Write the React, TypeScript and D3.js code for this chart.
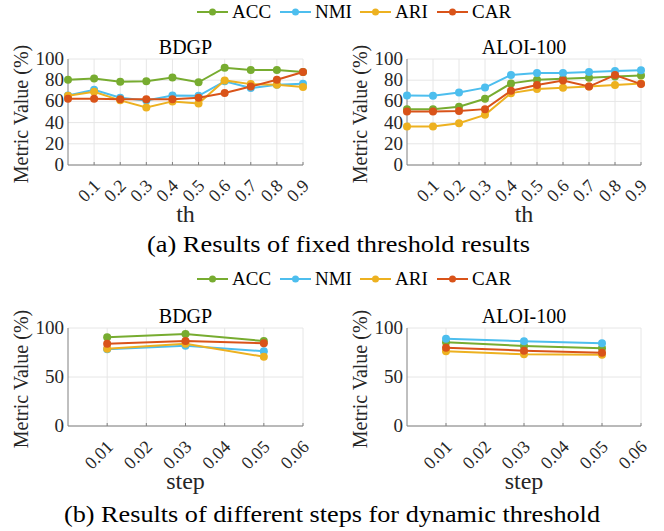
import React from 'react'
import * as d3 from 'd3'

const W = 664
const H = 531
const FONT = 'Liberation Serif, Times New Roman, serif'

const seriesNames = ['ACC', 'NMI', 'ARI', 'CAR']
const seriesColors = ['#77AC30', '#4DBEEE', '#EDB120', '#D95319']

// fixed threshold
const thValues = [0, 0.1, 0.2, 0.3, 0.4, 0.5, 0.6, 0.7, 0.8, 0.9]
const thTicks = [0.1, 0.2, 0.3, 0.4, 0.5, 0.6, 0.7, 0.8, 0.9]
const bdgpThACC = [80.4, 81.7, 78.5, 79, 82.6, 78, 91.8, 89.6, 89.6, 87.7]
const bdgpThNMI = [65.6, 71, 63.4, 60.9, 65.6, 65.3, 78.9, 72.6, 75.7, 76.7]
const bdgpThARI = [65.3, 69, 61, 54.3, 60, 58, 79.8, 76.3, 75.7, 73.5]
const bdgpThCAR = [62.5, 62.5, 62, 62, 62, 63.4, 68, 74, 80.4, 87.7]
const aloiThACC = [52.7, 52.7, 55, 62.5, 77, 80.4, 81.4, 82.3, 83.6, 84.5]
const aloiThNMI = [65.6, 65.3, 68.5, 73, 85, 86.7, 86.7, 87.7, 88.6, 89.3]
const aloiThARI = [36.3, 36.3, 39.4, 47.3, 67.8, 71.6, 72.9, 74, 75.4, 77]
const aloiThCAR = [50.5, 50.5, 51, 52.7, 70, 75.4, 79.8, 74, 84.9, 76.3]
const thYTicks = [0, 20, 40, 60, 80, 100]

// dynamic threshold steps
const stepValues = [0.01, 0.03, 0.05]
const stepTicks = [0.01, 0.02, 0.03, 0.04, 0.05, 0.06]
const bdgpStepACC = [90.5, 93.9, 86.7]
const bdgpStepNMI = [78.2, 82, 76.2]
const bdgpStepARI = [78.9, 84, 70.7]
const bdgpStepCAR = [84, 86.7, 84.4]
const aloiStepACC = [85.4, 81.6, 79.3]
const aloiStepNMI = [89.1, 86.4, 84.4]
const aloiStepARI = [76.2, 73.1, 72.8]
const aloiStepCAR = [79.9, 76.9, 74.8]
const stepYTicks = [0, 50, 100]

type PanelProps = {
  title: string
  left: number
  top: number
  width: number
  height: number
  xs: number[]
  xDomain: [number, number]
  xTicks: number[]
  yTicks: number[]
  series: number[][]
  xLabel: string
  xLabelY: number
}

const Panel = ({ title, left, top, width, height, xs, xDomain, xTicks, yTicks, series, xLabel, xLabelY }: PanelProps) => {
  const x = d3.scaleLinear().domain(xDomain).range([left, left + width])
  const y = d3.scaleLinear().domain([0, 100]).range([top + height, top])
  const line = d3
    .line<number>()
    .x((d, i) => x(xs[i]))
    .y(d => y(d))
  const bottom = top + height
  return (
    <g fontFamily={FONT} fill="#262626">
      {yTicks.map(t => (
        <line key={'gy' + t} x1={left} x2={left + width} y1={y(t)} y2={y(t)} stroke="#e6e6e6" strokeWidth={1} />
      ))}
      {xTicks.map(t => (
        <line key={'gx' + t} x1={x(t)} x2={x(t)} y1={top} y2={bottom} stroke="#e6e6e6" strokeWidth={1} />
      ))}
      <line x1={left} x2={left + width} y1={bottom} y2={bottom} stroke="#808080" />
      <line x1={left} x2={left} y1={top} y2={bottom} stroke="#808080" />
      {xTicks.map(t => (
        <line key={'tx' + t} x1={x(t)} x2={x(t)} y1={bottom} y2={bottom - 3} stroke="#808080" />
      ))}
      {yTicks.map(t => (
        <text key={'ly' + t} x={left - 4} y={y(t) + 6} textAnchor="end" fontSize={19}>
          {t}
        </text>
      ))}
      {xTicks.map(t => (
        <text
          key={'lx' + t}
          textAnchor="end"
          fontSize={18}
          transform={`translate(${x(t) + 7},${bottom + 22}) rotate(-45)`}
        >
          {t}
        </text>
      ))}
      <text x={left + width / 2} y={top - 5} textAnchor="middle" fontSize={20} fill="#000">
        {title}
      </text>
      <text
        textAnchor="middle"
        fontSize={20}
        transform={`translate(${left - 40},${top + height / 2 + 2}) rotate(-90)`}
      >
        Metric Value (%)
      </text>
      <text x={left + width / 2} y={bottom + xLabelY} textAnchor="middle" fontSize={24}>
        {xLabel}
      </text>
      {series.map((s, i) => (
        <g key={'s' + i}>
          <path d={line(s) || ''} fill="none" stroke={seriesColors[i]} strokeWidth={2} />
          {s.map((v, j) => (
            <circle key={j} cx={x(xs[j])} cy={y(v)} r={4} fill={seriesColors[i]} />
          ))}
        </g>
      ))}
    </g>
  )
}

const legendX = [197, 280, 360, 437]

const Legend = ({ cy }: { cy: number }) => (
  <g fontFamily={FONT}>
    {seriesNames.map((n, i) => (
      <g key={n}>
        <line x1={legendX[i]} x2={legendX[i] + 31} y1={cy} y2={cy} stroke={seriesColors[i]} strokeWidth={2} />
        <circle cx={legendX[i] + 15.5} cy={cy} r={3.5} fill={seriesColors[i]} />
        <text x={legendX[i] + 35} y={cy + 6} fontSize={19} fill="#000">
          {n}
        </text>
      </g>
    ))}
  </g>
)

const App = () => {
  return (
    <svg width={W} height={H} style={{ position: 'absolute', left: 0, top: 0, background: '#fff' }}>
      <Legend cy={12} />
      <Panel
        title="BDGP"
        left={68}
        top={59}
        width={235}
        height={106}
        xs={thValues}
        xDomain={[0, 0.9]}
        xTicks={thTicks}
        yTicks={thYTicks}
        series={[bdgpThACC, bdgpThNMI, bdgpThARI, bdgpThCAR]}
        xLabel="th"
        xLabelY={57}
      />
      <Panel
        title="ALOI-100"
        left={407}
        top={59}
        width={234}
        height={106}
        xs={thValues}
        xDomain={[0, 0.9]}
        xTicks={thTicks}
        yTicks={thYTicks}
        series={[aloiThACC, aloiThNMI, aloiThARI, aloiThCAR]}
        xLabel="th"
        xLabelY={57}
      />
      <text
        x={147}
        y={252}
        fontSize={24}
        fontFamily={FONT}
        fill="#000"
        textLength={383}
        lengthAdjust="spacingAndGlyphs"
      >
        (a) Results of fixed threshold results
      </text>
      <Legend cy={279} />
      <Panel
        title="BDGP"
        left={68}
        top={328}
        width={235}
        height={98}
        xs={stepValues}
        xDomain={[0, 0.06]}
        xTicks={stepTicks}
        yTicks={stepYTicks}
        series={[bdgpStepACC, bdgpStepNMI, bdgpStepARI, bdgpStepCAR]}
        xLabel="step"
        xLabelY={63}
      />
      <Panel
        title="ALOI-100"
        left={407}
        top={328}
        width={234}
        height={98}
        xs={stepValues}
        xDomain={[0, 0.06]}
        xTicks={stepTicks}
        yTicks={stepYTicks}
        series={[aloiStepACC, aloiStepNMI, aloiStepARI, aloiStepCAR]}
        xLabel="step"
        xLabelY={63}
      />
      <text
        x={64}
        y={522}
        fontSize={24}
        fontFamily={FONT}
        fill="#000"
        textLength={536}
        lengthAdjust="spacingAndGlyphs"
      >
        (b) Results of different steps for dynamic threshold
      </text>
    </svg>
  )
}

export default App
